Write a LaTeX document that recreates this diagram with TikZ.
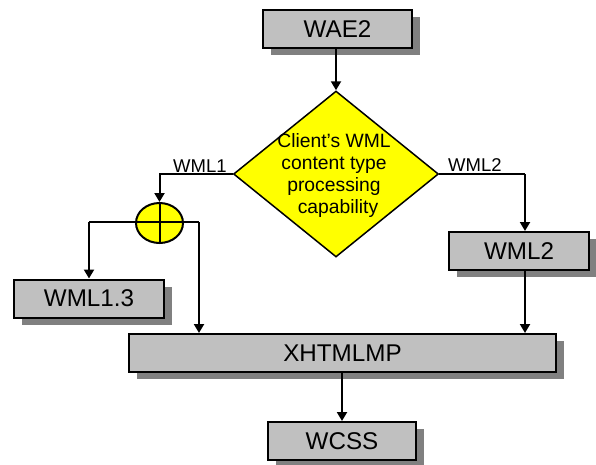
\documentclass[tikz,border=0pt]{standalone}
\usepackage{fontspec}
\setmainfont{Liberation Sans}
\usetikzlibrary{shapes.geometric,shadows,arrows.meta}
\definecolor{boxgray}{HTML}{C0C0C0}
\definecolor{shadowgray}{HTML}{808080}
\definecolor{decyellow}{HTML}{FFFF00}
\tikzset{
  procbox/.style={draw=black, line width=2pt, fill=boxgray, inner sep=0pt,
    minimum height=38pt, font=\fontsize{24.2}{27}\selectfont,
    general shadow={fill=shadowgray, shadow xshift=8pt, shadow yshift=-7pt}},
  conn/.style={line width=2pt},
  arr/.style={conn, -{Triangle[length=9pt,width=10pt]}},
  lbl/.style={font=\fontsize{18.5}{20}\selectfont, inner sep=0pt, anchor=base west}
}
\begin{document}
\begin{tikzpicture}[x=1pt,y=-1pt]
\useasboundingbox (0,0) rectangle (596,464);
% boxes
\node[procbox, minimum width=149pt] (wae) at (337.5,29) {WAE2};
\node[procbox, minimum width=150pt] (wml13) at (89,298.5) {WML1.3};
\node[procbox, minimum width=140pt] (wml2) at (519,251) {WML2};
\node[procbox, minimum width=427pt] (xhtml) at (342.5,353) {XHTMLMP};
\node[procbox, minimum width=148pt] (wcss) at (342,441) {WCSS};
% decision
\node[diamond, draw=black, line width=1.5pt, fill=decyellow, aspect=1.23,
      minimum width=205pt, minimum height=166pt, inner sep=0pt] (dec) at (336,174) {};
\node[align=center, inner sep=0pt, font=\fontsize{19.3}{22}\selectfont] (dectext) at (334,176)
  {Client’s WML\\content type\\processing\\\hspace*{8pt}capability};
% merge circle
\node[ellipse, draw=black, line width=2pt, fill=decyellow, minimum width=47pt,
      minimum height=40pt, inner sep=0pt] (circ) at (159.5,223) {};
\coordinate (cl) at (89,222);
\coordinate (cr) at (199,222);
\coordinate (rr) at (525,174);
% connectors
\draw[arr] (wae.south -| dec.north) -- (dec.north);
\draw[arr] (dec.west) -| (circ.north);
\draw[conn] (circ.north) -- (circ.south);
\draw[conn] (cl) -- (cr);
\draw[arr] (cl) -- (wml13.north);
\draw[arr] (cr) -- (cr |- xhtml.north);
\draw[conn] (dec.east) -- (rr);
\draw[arr] (rr) -- (rr |- wml2.north);
\draw[arr] (rr |- wml2.south) -- (rr |- xhtml.north);
\draw[arr] (wcss.north |- xhtml.south) -- (wcss.north);
% labels
\node[lbl] (l1) at (173,172) {WML1};
\node[lbl] (l2) at (448,171) {WML2};
\end{tikzpicture}
\end{document}
